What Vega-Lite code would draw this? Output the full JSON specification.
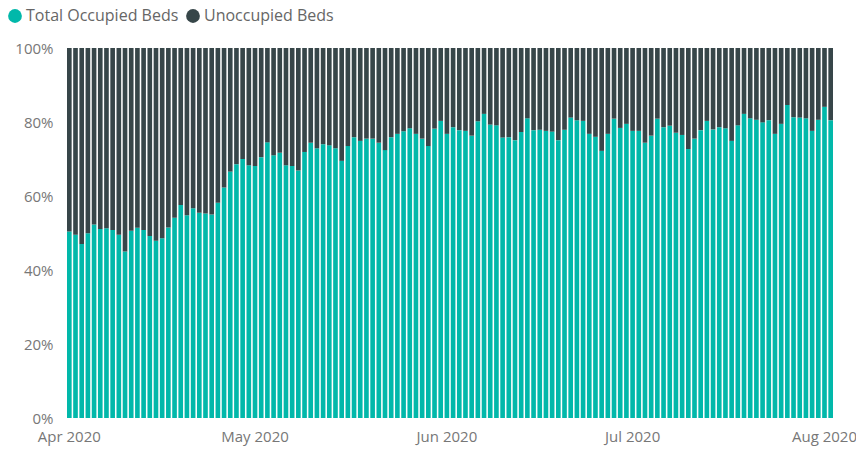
{
"$schema": "https://vega.github.io/schema/vega-lite/v6.json",
"width": 766, "height": 370,
"autosize": {"type": "none"},
"padding": {"left": 67, "top": 48, "right": 23, "bottom": 31},
"background": "white",
"config": {"view": {"stroke": null}, "font": "Open Sans"},
"data": {"values": [
{"d":"2020-04-01","occupied":50.4,"unoccupied":49.6},{"d":"2020-04-02","occupied":49.5,"unoccupied":50.5},{"d":"2020-04-03","occupied":47,"unoccupied":53},{"d":"2020-04-04","occupied":49.9,"unoccupied":50.1},{"d":"2020-04-05","occupied":52.3,"unoccupied":47.7},{"d":"2020-04-06","occupied":51.1,"unoccupied":48.9},{"d":"2020-04-07","occupied":51.3,"unoccupied":48.7},{"d":"2020-04-08","occupied":50.8,"unoccupied":49.2},{"d":"2020-04-09","occupied":49.5,"unoccupied":50.5},{"d":"2020-04-10","occupied":45,"unoccupied":55},
{"d":"2020-04-11","occupied":50.6,"unoccupied":49.4},{"d":"2020-04-12","occupied":51.4,"unoccupied":48.6},{"d":"2020-04-13","occupied":50.8,"unoccupied":49.2},{"d":"2020-04-14","occupied":49.2,"unoccupied":50.8},{"d":"2020-04-15","occupied":47.9,"unoccupied":52.1},{"d":"2020-04-16","occupied":48.6,"unoccupied":51.4},{"d":"2020-04-17","occupied":51.5,"unoccupied":48.5},{"d":"2020-04-18","occupied":54.1,"unoccupied":45.9},{"d":"2020-04-19","occupied":57.6,"unoccupied":42.4},{"d":"2020-04-20","occupied":54.8,"unoccupied":45.2},
{"d":"2020-04-21","occupied":56.7,"unoccupied":43.3},{"d":"2020-04-22","occupied":55.5,"unoccupied":44.5},{"d":"2020-04-23","occupied":55.3,"unoccupied":44.7},{"d":"2020-04-24","occupied":55,"unoccupied":45},{"d":"2020-04-25","occupied":58.2,"unoccupied":41.8},{"d":"2020-04-26","occupied":62.3,"unoccupied":37.7},{"d":"2020-04-27","occupied":66.6,"unoccupied":33.4},{"d":"2020-04-28","occupied":68.6,"unoccupied":31.4},{"d":"2020-04-29","occupied":70,"unoccupied":30},{"d":"2020-04-30","occupied":68.3,"unoccupied":31.7},
{"d":"2020-05-01","occupied":68.1,"unoccupied":31.9},{"d":"2020-05-02","occupied":70.5,"unoccupied":29.5},{"d":"2020-05-03","occupied":74.5,"unoccupied":25.5},{"d":"2020-05-04","occupied":71,"unoccupied":29},{"d":"2020-05-05","occupied":71.7,"unoccupied":28.3},{"d":"2020-05-06","occupied":68.3,"unoccupied":31.7},{"d":"2020-05-07","occupied":68.1,"unoccupied":31.9},{"d":"2020-05-08","occupied":66.9,"unoccupied":33.1},{"d":"2020-05-09","occupied":71.9,"unoccupied":28.1},{"d":"2020-05-10","occupied":74.4,"unoccupied":25.6},
{"d":"2020-05-11","occupied":72.9,"unoccupied":27.1},{"d":"2020-05-12","occupied":74,"unoccupied":26},{"d":"2020-05-13","occupied":73.7,"unoccupied":26.3},{"d":"2020-05-14","occupied":72.9,"unoccupied":27.1},{"d":"2020-05-15","occupied":69.5,"unoccupied":30.5},{"d":"2020-05-16","occupied":73.5,"unoccupied":26.5},{"d":"2020-05-17","occupied":75.9,"unoccupied":24.1},{"d":"2020-05-18","occupied":74.9,"unoccupied":25.1},{"d":"2020-05-19","occupied":75.5,"unoccupied":24.5},{"d":"2020-05-20","occupied":75.5,"unoccupied":24.5},
{"d":"2020-05-21","occupied":74.4,"unoccupied":25.6},{"d":"2020-05-22","occupied":72.4,"unoccupied":27.6},{"d":"2020-05-23","occupied":75.9,"unoccupied":24.1},{"d":"2020-05-24","occupied":76.8,"unoccupied":23.2},{"d":"2020-05-25","occupied":77.5,"unoccupied":22.5},{"d":"2020-05-26","occupied":78.3,"unoccupied":21.7},{"d":"2020-05-27","occupied":76.8,"unoccupied":23.2},{"d":"2020-05-28","occupied":75.5,"unoccupied":24.5},{"d":"2020-05-29","occupied":73.5,"unoccupied":26.5},{"d":"2020-05-30","occupied":78.2,"unoccupied":21.8},{"d":"2020-05-31","occupied":80.3,"unoccupied":19.7},
{"d":"2020-06-01","occupied":76.8,"unoccupied":23.2},{"d":"2020-06-02","occupied":78.6,"unoccupied":21.4},{"d":"2020-06-03","occupied":77.8,"unoccupied":22.2},{"d":"2020-06-04","occupied":77.6,"unoccupied":22.4},{"d":"2020-06-05","occupied":76.3,"unoccupied":23.7},{"d":"2020-06-06","occupied":80.2,"unoccupied":19.8},{"d":"2020-06-07","occupied":82.2,"unoccupied":17.8},{"d":"2020-06-08","occupied":79.3,"unoccupied":20.7},{"d":"2020-06-09","occupied":79.1,"unoccupied":20.9},{"d":"2020-06-10","occupied":75.8,"unoccupied":24.2},
{"d":"2020-06-11","occupied":75.9,"unoccupied":24.1},{"d":"2020-06-12","occupied":75.1,"unoccupied":24.9},{"d":"2020-06-13","occupied":77.3,"unoccupied":22.7},{"d":"2020-06-14","occupied":81,"unoccupied":19},{"d":"2020-06-15","occupied":77.8,"unoccupied":22.2},{"d":"2020-06-16","occupied":77.9,"unoccupied":22.1},{"d":"2020-06-17","occupied":77.6,"unoccupied":22.4},{"d":"2020-06-18","occupied":77.4,"unoccupied":22.6},{"d":"2020-06-19","occupied":75.1,"unoccupied":24.9},{"d":"2020-06-20","occupied":77.9,"unoccupied":22.1},
{"d":"2020-06-21","occupied":81.2,"unoccupied":18.8},{"d":"2020-06-22","occupied":80.5,"unoccupied":19.5},{"d":"2020-06-23","occupied":80.3,"unoccupied":19.7},{"d":"2020-06-24","occupied":76.8,"unoccupied":23.2},{"d":"2020-06-25","occupied":76,"unoccupied":24},{"d":"2020-06-26","occupied":72.2,"unoccupied":27.8},{"d":"2020-06-27","occupied":76.8,"unoccupied":23.2},{"d":"2020-06-28","occupied":80.9,"unoccupied":19.1},{"d":"2020-06-29","occupied":78.4,"unoccupied":21.6},{"d":"2020-06-30","occupied":79.5,"unoccupied":20.5},
{"d":"2020-07-01","occupied":77.6,"unoccupied":22.4},{"d":"2020-07-02","occupied":77.6,"unoccupied":22.4},{"d":"2020-07-03","occupied":74.4,"unoccupied":25.6},{"d":"2020-07-04","occupied":76.3,"unoccupied":23.7},{"d":"2020-07-05","occupied":80.9,"unoccupied":19.1},{"d":"2020-07-06","occupied":78.6,"unoccupied":21.4},{"d":"2020-07-07","occupied":79,"unoccupied":21},{"d":"2020-07-08","occupied":77.1,"unoccupied":22.9},{"d":"2020-07-09","occupied":76.5,"unoccupied":23.5},{"d":"2020-07-10","occupied":72.7,"unoccupied":27.3},
{"d":"2020-07-11","occupied":75.5,"unoccupied":24.5},{"d":"2020-07-12","occupied":77.8,"unoccupied":22.2},{"d":"2020-07-13","occupied":80.3,"unoccupied":19.7},{"d":"2020-07-14","occupied":78,"unoccupied":22},{"d":"2020-07-15","occupied":78.6,"unoccupied":21.4},{"d":"2020-07-16","occupied":78.3,"unoccupied":21.7},{"d":"2020-07-17","occupied":74.9,"unoccupied":25.1},{"d":"2020-07-18","occupied":79.1,"unoccupied":20.9},{"d":"2020-07-19","occupied":82.2,"unoccupied":17.8},{"d":"2020-07-20","occupied":81,"unoccupied":19},
{"d":"2020-07-21","occupied":80.6,"unoccupied":19.4},{"d":"2020-07-22","occupied":79.9,"unoccupied":20.1},{"d":"2020-07-23","occupied":80.5,"unoccupied":19.5},{"d":"2020-07-24","occupied":76.8,"unoccupied":23.2},{"d":"2020-07-25","occupied":79.5,"unoccupied":20.5},{"d":"2020-07-26","occupied":84.6,"unoccupied":15.4},{"d":"2020-07-27","occupied":81.3,"unoccupied":18.7},{"d":"2020-07-28","occupied":81.2,"unoccupied":18.8},{"d":"2020-07-29","occupied":81,"unoccupied":19},{"d":"2020-07-30","occupied":77.6,"unoccupied":22.4},{"d":"2020-07-31","occupied":80.6,"unoccupied":19.4},
{"d":"2020-08-01","occupied":84.1,"unoccupied":15.9},{"d":"2020-08-02","occupied":80.5,"unoccupied":19.5}
]},
"transform": [
  {"fold": ["occupied", "unoccupied"], "as": ["series", "value"]}
],
"mark": {"type": "bar"},
"encoding": {
  "x": {"field": "d", "type": "ordinal", "scale": {"paddingInner": 0.25, "paddingOuter": 0},
    "axis": {"title": null, "labelExpr": "utcdate(toDate(datum.value)) == 1 ? utcFormat(toDate(datum.value), '%b %Y') : ''", "labelAngle": 0, "ticks": false, "domain": false, "labelOverlap": false, "labelPadding": 11, "labelFontSize": 15, "labelColor": "#777777", "labelBound": false}},
  "y": {"field": "value", "type": "quantitative", "stack": "normalize",
    "axis": {"title": null, "format": ".0%", "values": [0, 0.2, 0.4, 0.6, 0.8, 1], "ticks": false, "domain": false, "grid": false, "labelPadding": 14, "labelFontSize": 15, "labelColor": "#777777"}},
  "color": {"field": "series", "type": "nominal",
    "scale": {"domain": ["occupied", "unoccupied"], "range": ["#01B8AA", "#374649"]},
    "legend": {"title": null, "orient": "none", "legendX": -60, "legendY": -40, "direction": "horizontal", "symbolType": "circle", "symbolSize": 190, "symbolStrokeWidth": 0, "symbolOpacity": 1, "labelFontSize": 16, "labelColor": "#666666", "columnPadding": 6, "labelOffset": 3,
      "labelExpr": "datum.value == 'occupied' ? 'Total Occupied Beds' : 'Unoccupied Beds'"}},
  "order": {"field": "series", "sort": "ascending"}
}
}
